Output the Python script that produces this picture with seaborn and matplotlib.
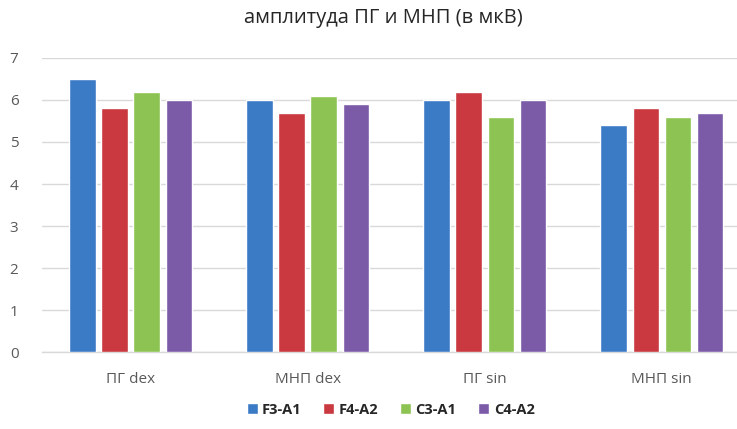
import matplotlib
matplotlib.use("Agg")
import matplotlib.pyplot as plt
import seaborn as sns
import pandas as pd

categories = ["ПГ dex", "МНП dex", "ПГ sin", "МНП sin"]
series_names = ["F3-A1", "F4-A2", "C3-A1", "C4-A2"]
f3_a1 = [6.5, 6.0, 6.0, 5.4]
f4_a2 = [5.8, 5.7, 6.2, 5.8]
c3_a1 = [6.2, 6.1, 5.6, 5.6]
c4_a2 = [6.0, 5.9, 6.0, 5.7]
y_ticks = [0, 1, 2, 3, 4, 5, 6, 7]
title = "амплитуда ПГ и МНП (в мкВ)"

colors = ["#3B7BC5", "#C9393F", "#8CC353", "#7B5AA8"]

rows = []
for name, vals in zip(series_names, [f3_a1, f4_a2, c3_a1, c4_a2]):
    for cat, v in zip(categories, vals):
        rows.append({"group": cat, "series": name, "value": v})
df = pd.DataFrame(rows)

sns.set_theme(style="white")
plt.rcParams["font.family"] = ["Open Sans", "DejaVu Sans"]

fig = plt.figure(figsize=(7.37, 4.29), dpi=100)
# plot area runs slightly past the right edge of the canvas
ax = fig.add_axes([0.057, 0.179, 0.961, 0.686])

sns.barplot(data=df, x="group", y="value", hue="series", order=categories,
            hue_order=series_names, palette=colors, width=0.725, gap=0.18,
            saturation=1, ax=ax, legend=True, zorder=3)

ax.set_ylim(0, 7)
ax.set_yticks(y_ticks)
ax.set_xlim(-0.5, 3.5)
ax.yaxis.grid(True, color="#D9D9D9", linewidth=1, zorder=0)
ax.set_axisbelow(True)
for s in ["top", "right", "left"]:
    ax.spines[s].set_visible(False)
ax.spines["bottom"].set_color("#D9D9D9")
ax.spines["bottom"].set_linewidth(1)
ax.tick_params(axis="both", length=0, colors="#595959", labelsize=11)
ax.tick_params(axis="y", pad=17)
ax.tick_params(axis="x", pad=14)
ax.set_xlabel("")
ax.set_ylabel("")

fig.text(0.52, 0.957, title, ha="center", va="center", fontsize=14.5, color="#262626")

handles, labels = ax.get_legend_handles_labels()
ax.legend_.remove()
fig.legend(handles, labels, loc="center", bbox_to_anchor=(0.53, 0.045), ncol=4,
           frameon=False, handlelength=0.75, handleheight=0.75,
           handletextpad=0.3, columnspacing=1.5,
           prop={"weight": "bold", "size": 10.5})

fig.savefig("out.png", dpi=100)
